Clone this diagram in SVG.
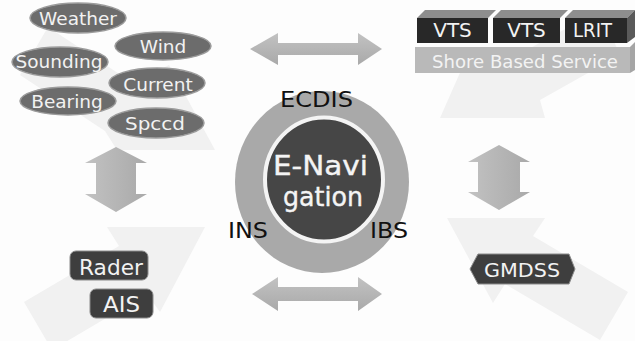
<svg xmlns="http://www.w3.org/2000/svg" width="635" height="341" viewBox="0 0 635 341">
<defs>
<style>
.t{font-family:"DejaVu Sans","Liberation Sans",sans-serif;}
.w{fill:#f2f2f2;}
.k{fill:#111111;}
.ell{fill:#6c6c6c;stroke:#9c9c9c;stroke-width:1.5;}
.box{fill:#3e3e3e;stroke:#8a8a8a;stroke-width:1;}
.faint{fill:#f1f1f1;}
.arr{fill:url(#ga);}
.front{fill:#282828;}
.top{fill:#8e8e8e;}
.side{fill:#5a5a5a;}
</style>
<linearGradient id="ga" x1="0" y1="0" x2="0" y2="1">
<stop offset="0" stop-color="#c2c2c2"/>
<stop offset="1" stop-color="#a9a9a9"/>
</linearGradient>
<linearGradient id="gv" x1="0" y1="0" x2="1" y2="0">
<stop offset="0" stop-color="#c2c2c2"/>
<stop offset="1" stop-color="#a9a9a9"/>
</linearGradient>
</defs>
<rect width="635" height="341" fill="#fdfdfd"/>

<g id="background-arrows">
<polygon class="faint" points="215,150 117,150 105,131 20,75 48,27 133,83 169,65"/>
<polygon class="faint" points="440,118 545,118 540,100 620,55 600,10 505,62 470,50"/>
<polygon class="faint" points="205,227 107,227 119,246 24,302 52,350 147,294 160,312"/>
<polygon class="faint" points="447,218 545,218 533,236 628,292 600,340 505,284 493,303"/>
</g>

<g id="connectors">
<polygon class="arr" points="250,49 278,33 278,43 358,43 358,33 382,49 358,65 358,55 278,55 278,65"/>
<polygon class="arr" points="252,294 278,277 278,287 358,287 358,277 382,294 358,311 358,301 278,301 278,311"/>
<polygon fill="url(#gv)" points="116,147 147,163 136,163 136,194 147,194 116,212 85,194 96,194 96,163 85,163"/>
<polygon fill="url(#gv)" points="499,145 530,162 520,162 520,192 530,192 499,210 468,192 478,192 478,162 468,162"/>
</g>

<g id="node-weather"><ellipse class="ell" cx="78" cy="18" rx="48" ry="15"/><text class="t w" x="78" y="25" font-size="18.5" text-anchor="middle">Weather</text></g>
<g id="node-wind"><ellipse class="ell" cx="163" cy="46" rx="48" ry="14"/><text class="t w" x="163" y="53" font-size="18.5" text-anchor="middle">Wind</text></g>
<g id="node-sounding"><ellipse class="ell" cx="60" cy="62" rx="48" ry="15"/><text class="t w" x="59" y="68" font-size="18.5" text-anchor="middle">Sounding</text></g>
<g id="node-current"><ellipse class="ell" cx="157" cy="83" rx="48" ry="15"/><text class="t w" x="158" y="91" font-size="18.5" text-anchor="middle">Current</text></g>
<g id="node-bearing"><ellipse class="ell" cx="68" cy="101" rx="48" ry="14"/><text class="t w" x="67" y="108" font-size="18.5" text-anchor="middle">Bearing</text></g>
<g id="node-spccd"><ellipse class="ell" cx="156" cy="123" rx="48" ry="15"/><text class="t w" x="155" y="130" font-size="18.5" text-anchor="middle" textLength="60" lengthAdjust="spacingAndGlyphs">Spccd</text></g>

<g id="node-shore">
<rect class="front" x="417" y="18" width="71" height="25"/>
<polygon class="top" points="417,18 425,10 496,10 488,18"/>
<rect class="front" x="493" y="18" width="67" height="25"/>
<polygon class="top" points="493,18 501,10 568,10 560,18"/>
<rect class="front" x="565" y="18" width="62" height="25"/>
<polygon class="top" points="565,18 573,10 635,10 627,18"/>
<polygon class="side" points="627,18 635,10 635,37 627,43"/>
<text class="t w" x="452.5" y="37" font-size="20" text-anchor="middle">VTS</text>
<text class="t w" x="526.5" y="37" font-size="20" text-anchor="middle">VTS</text>
<text class="t w" x="592.5" y="37" font-size="19" text-anchor="middle" textLength="39" lengthAdjust="spacingAndGlyphs">LRIT</text>
<rect x="415" y="47" width="215" height="26" fill="#b9b9b9"/>
<polygon points="630,47 635,42 635,70 630,73" fill="#a5a5a5"/>
<text class="t" x="525" y="68" font-size="18.5" fill="#f3f3f3" text-anchor="middle" textLength="186" lengthAdjust="spacingAndGlyphs">Shore Based Service</text>
</g>

<g id="node-enavigation">
<ellipse cx="322" cy="182" rx="87" ry="91" fill="#a9a9a9"/>
<ellipse cx="324" cy="179.5" rx="59" ry="62" fill="#464646" stroke="#f4f4f4" stroke-width="4"/>
<text class="t" x="320.5" y="175" font-size="27" fill="#f4f4f4" stroke="#f4f4f4" stroke-width="0.4" text-anchor="middle" textLength="95" lengthAdjust="spacingAndGlyphs">E-Navi</text>
<text class="t" x="323" y="206" font-size="27" fill="#f4f4f4" stroke="#f4f4f4" stroke-width="0.4" text-anchor="middle" textLength="80" lengthAdjust="spacingAndGlyphs">gation</text>
</g>
<g id="label-ecdis"><text class="t k" x="316.5" y="107" font-size="21" text-anchor="middle" textLength="73" lengthAdjust="spacingAndGlyphs">ECDIS</text></g>
<g id="label-ins"><text class="t k" x="248" y="238" font-size="21" text-anchor="middle" textLength="40" lengthAdjust="spacingAndGlyphs">INS</text></g>
<g id="label-ibs"><text class="t k" x="389" y="238" font-size="21" text-anchor="middle" textLength="38" lengthAdjust="spacingAndGlyphs">IBS</text></g>

<g id="node-rader"><rect class="box" x="70" y="251" width="78" height="29" rx="6"/><text class="t w" x="111" y="275" font-size="21" text-anchor="middle" textLength="64" lengthAdjust="spacingAndGlyphs">Rader</text></g>
<g id="node-ais"><rect class="box" x="90" y="289" width="63" height="29" rx="6"/><text class="t w" x="121.5" y="312" font-size="21" text-anchor="middle" textLength="37" lengthAdjust="spacingAndGlyphs">AIS</text></g>
<g id="node-gmdss"><polygon class="box" points="470,269 478,254 569,254 575,269 569,284 478,284"/><text class="t w" x="522" y="277" font-size="20" text-anchor="middle" textLength="76" lengthAdjust="spacingAndGlyphs">GMDSS</text></g>
</svg>
